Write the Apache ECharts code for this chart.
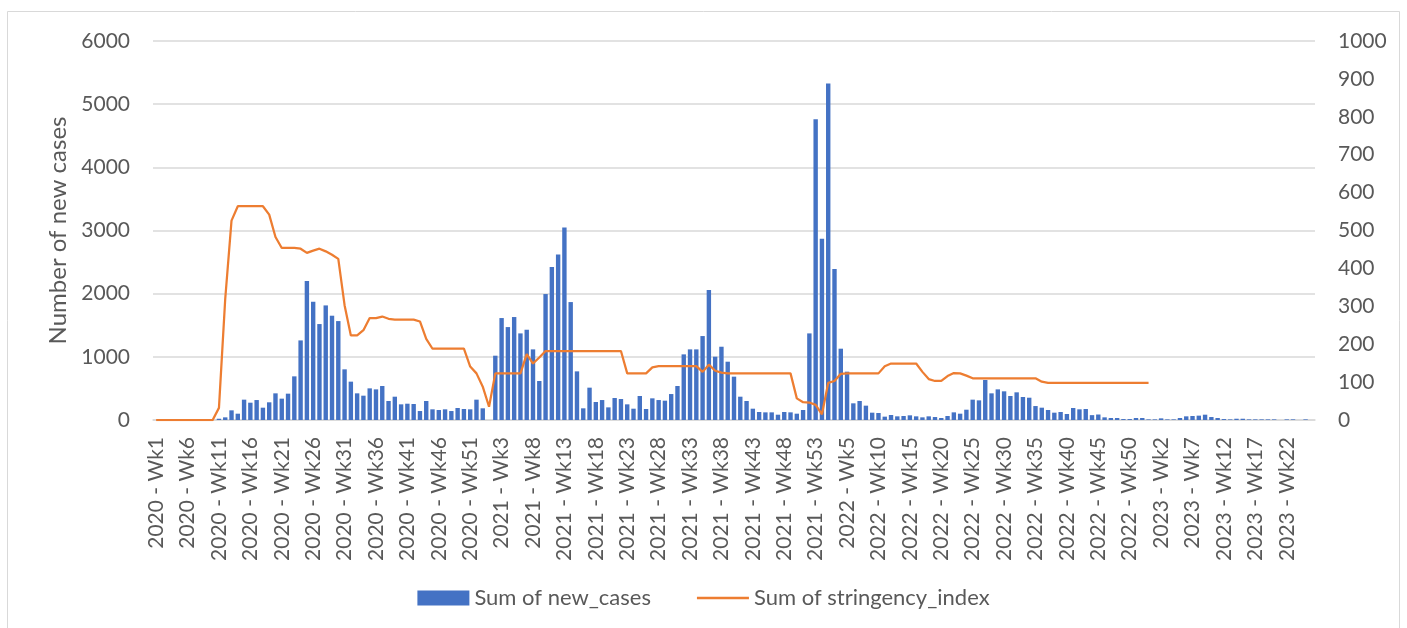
<!DOCTYPE html>
<html>
<head>
<meta charset="utf-8">
<title>New cases and stringency index</title>
<script src="https://cdn.jsdelivr.net/npm/echarts@6/dist/echarts.min.js"></script>
<style>
  html, body { margin: 0; padding: 0; background: #fff; }
  #chart { width: 1407px; height: 628px; }
</style>
</head>
<body>
<div id="chart"></div>
<script>
// weeks in each year, used for the category labels
const years = [2020, 2021, 2022, 2023];
const weeksPerYear = [53, 53, 53, 26];

const newCases = [
    0, 0, 0, 0, 0, 0, 0, 0, 0, 0,
    20, 42, 153, 100, 322, 274, 316, 195, 280, 422,
    338, 417, 691, 1260, 2199, 1872, 1519, 1814, 1651, 1566,
    802, 607, 422, 385, 501, 485, 538, 301, 369, 248,
    258, 253, 142, 301, 169, 158, 169, 142, 190, 174,
    169, 322, 185, 0, 1018, 1614, 1471, 1630, 1371, 1429,
    1118, 617, 1994, 2421, 2621, 3048, 1867, 770, 185, 512,
    285, 316, 200, 348, 332, 248, 179, 380, 174, 343,
    316, 306, 411, 538, 1039, 1118, 1118, 1329, 2057, 1002,
    1160, 923, 686, 369, 301, 179, 127, 121, 121, 84,
    127, 121, 100, 158, 1371, 4762, 2869, 5327, 2389, 1129,
    765, 264, 301, 227, 116, 111, 53, 79, 58, 63,
    74, 58, 42, 58, 47, 32, 63, 121, 100, 163,
    322, 311, 633, 422, 485, 454, 380, 438, 364, 353,
    221, 195, 158, 116, 127, 95, 190, 169, 174, 77,
    87, 42, 32, 32, 15, 15, 32, 32, 10, 10,
    26, 10, 10, 32, 58, 63, 69, 84, 47, 32,
    15, 10, 20, 20, 10, 10, 10, 10, 10, 0,
    10, 10, 0, 10, 0
];

const stringency = [
    0, 0, 0, 0, 0, 0, 0, 0, 0, 0,
    32, 320, 526, 564, 564, 564, 564, 564, 542, 483,
    454, 454, 454, 452, 441, 447, 452, 445, 436, 425,
    303, 223, 223, 237, 269, 269, 273, 267, 265, 265,
    265, 265, 260, 214, 188, 188, 188, 188, 188, 188,
    141, 123, 88, 35, 123, 123, 123, 123, 123, 174,
    149, 165, 182, 182, 182, 182, 182, 182, 182, 182,
    182, 182, 182, 182, 182, 123, 123, 123, 123, 139,
    142, 142, 142, 142, 142, 142, 142, 127, 146, 130,
    125, 123, 123, 123, 123, 123, 123, 123, 123, 123,
    123, 123, 57, 47, 46, 40, 15, 98, 103, 122,
    123, 123, 123, 123, 123, 123, 142, 149, 149, 149,
    149, 149, 127, 108, 103, 103, 116, 124, 123, 117,
    110, 110, 110, 110, 110, 110, 110, 110, 110, 110,
    110, 101, 98, 98, 98, 98, 98, 98, 98, 98,
    98, 98, 98, 98, 98, 98, 98, 98, 98
];

const leftTicks = { min: 0, max: 6000, interval: 1000 };
const rightTicks = { min: 0, max: 1000, interval: 100 };

const categories = [];
years.forEach((y, k) => {
    for (let w = 1; w <= weeksPerYear[k]; w++) {
        categories.push(y + ' - Wk' + w);
    }
});

const FONT = 'Lato';
const TEXT_COLOR = '#595959';
const GRID_COLOR = '#d9d9d9';
const BAR_COLOR = '#4472C4';
const LINE_COLOR = '#ED7D31';

const chart = echarts.init(document.getElementById('chart'));

chart.setOption({
    backgroundColor: '#fff',
    animation: false,
    textStyle: { fontFamily: FONT, color: TEXT_COLOR },
    graphic: [{
        type: 'rect',
        shape: { x: 7.5, y: 11.5, width: 1392, height: 640 },
        style: { fill: 'none', stroke: GRID_COLOR, lineWidth: 1 },
        silent: true
    }],
    grid: { left: 153, right: 92, top: 41, bottom: 208 },
    legend: {
        bottom: 14,
        left: 'center',
        itemWidth: 52,
        itemHeight: 15,
        itemGap: 46,
        textStyle: { fontFamily: FONT, fontSize: 22, color: TEXT_COLOR },
        data: [
            { name: 'Sum of new_cases', icon: 'rect' },
            { name: 'Sum of stringency_index', icon: 'path://M0,0H100V5H0Z' }
        ]
    },
    xAxis: {
        type: 'category',
        data: categories,
        boundaryGap: true,
        axisLine: { lineStyle: { color: GRID_COLOR, width: 1.5 } },
        axisTick: { show: false },
        axisLabel: {
            interval: 4,
            rotate: 90,
            margin: 17,
            fontFamily: FONT,
            fontSize: 21,
            color: TEXT_COLOR
        }
    },
    yAxis: [
        {
            type: 'value',
            min: leftTicks.min,
            max: leftTicks.max,
            interval: leftTicks.interval,
            name: 'Number of new cases',
            nameLocation: 'middle',
            nameGap: 76,
            nameTextStyle: { fontFamily: FONT, fontSize: 24, color: TEXT_COLOR },
            axisLine: { show: false },
            axisTick: { show: false },
            splitLine: { lineStyle: { color: GRID_COLOR, width: 1.5 } },
            axisLabel: {
                margin: 23,
                fontFamily: FONT,
                fontSize: 21,
                color: TEXT_COLOR,
                formatter: v => String(v)
            }
        },
        {
            type: 'value',
            min: rightTicks.min,
            max: rightTicks.max,
            interval: rightTicks.interval,
            position: 'right',
            axisLine: { show: false },
            axisTick: { show: false },
            splitLine: { show: false },
            axisLabel: {
                margin: 23,
                fontFamily: FONT,
                fontSize: 21,
                color: TEXT_COLOR,
                formatter: v => String(v)
            }
        }
    ],
    series: [
        {
            name: 'Sum of new_cases',
            type: 'bar',
            data: newCases,
            yAxisIndex: 0,
            barWidth: '70%',
            itemStyle: { color: BAR_COLOR }
        },
        {
            name: 'Sum of stringency_index',
            type: 'line',
            data: stringency,
            yAxisIndex: 1,
            symbol: 'none',
            lineStyle: { color: LINE_COLOR, width: 2.25 },
            itemStyle: { color: LINE_COLOR }
        }
    ]
});

window.addEventListener('resize', () => chart.resize());
</script>
</body>
</html>
